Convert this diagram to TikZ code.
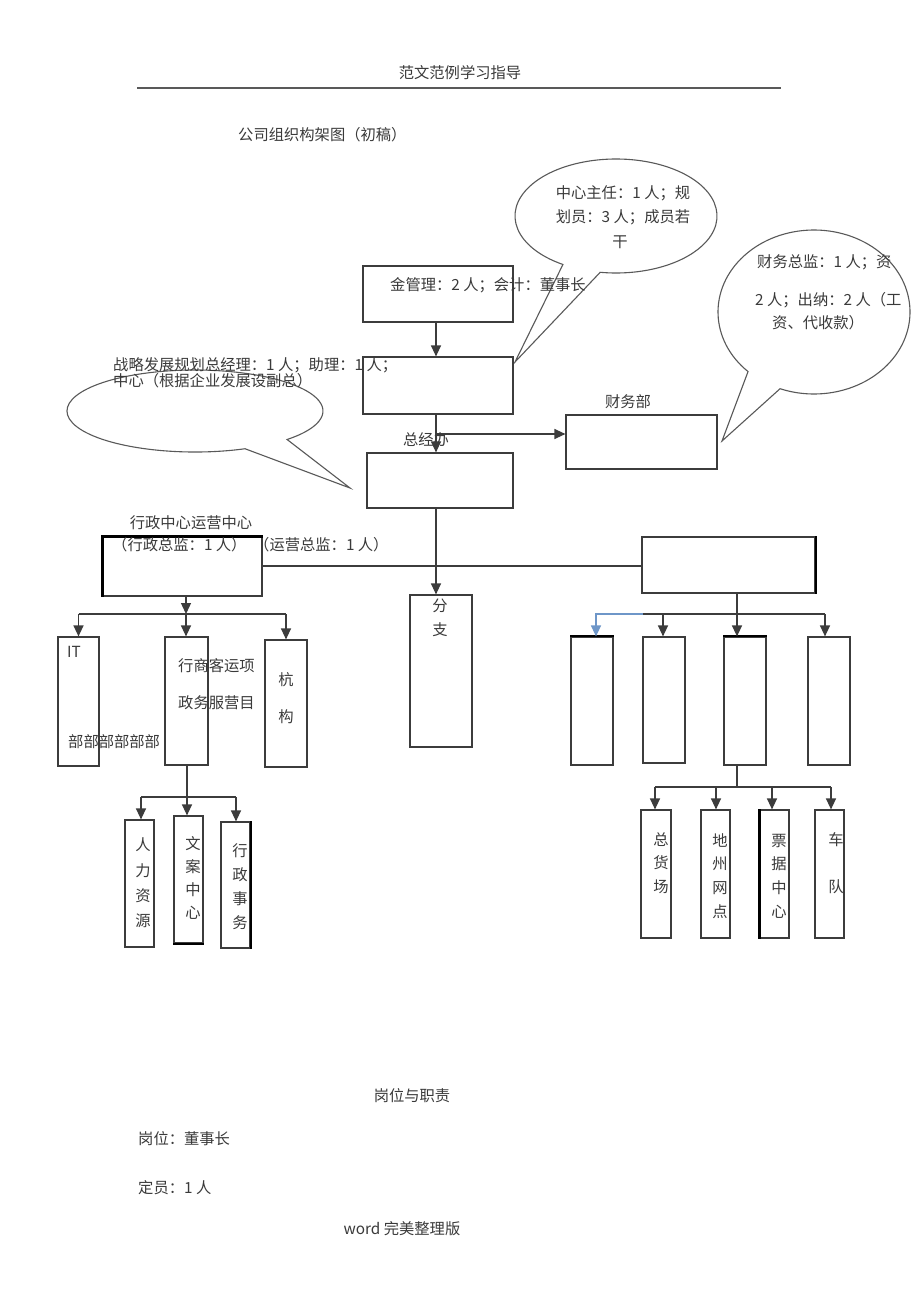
\documentclass[tikz,border=0pt]{standalone}
\usepackage{fontspec}
\setmainfont{Noto Sans CJK SC}
\usetikzlibrary{arrows.meta,calc}
\definecolor{lnc}{HTML}{3C3C3C}
\definecolor{txc}{HTML}{3A3A3A}
\definecolor{blc}{HTML}{6E96C8}
\newcommand\mkbox[5]{\node[box,minimum width=#4pt,minimum height=#5pt] (#1) at (#2,#3) {};}
\begin{document}
\begin{tikzpicture}[x=1pt,y=-1pt,
  box/.style={draw=lnc,line width=1.2pt,inner sep=0pt},
  conn/.style={draw=lnc,line width=1.2pt},
  arr/.style={draw=lnc,line width=1.3pt,-{Triangle[length=11pt,width=10pt]}},
  lbl/.style={inner sep=0pt,text=txc,font=\fontsize{15.3}{17}\selectfont},
  bub/.style={draw=lnc!85,line width=1.1pt},
  vt/.style={lbl,align=center}]
\path[fill=white] (0,0) rectangle (920,1303);

% header
\node[lbl] (hdr) at (460,73) {范文范例学习指导};
\draw[line width=1.4pt,draw=black!65] (137,88) -- (781,88);
\node[lbl,anchor=west] (title) at (238,135) {公司组织构架图（初稿）};

% callouts
\draw[bub] (616,216) ++(121.7:101 and 57) arc[start angle=121.7,end angle=459,x radius=101,y radius=57] -- (515,362) -- cycle;
\draw[bub] (814,312) ++(133.4:96 and 82) arc[start angle=133.4,end angle=470.7,x radius=96,y radius=82] -- (722,441) -- cycle;
\draw[bub] (195,411) ++(67:128 and 41) arc[start angle=67,end angle=404,x radius=128,y radius=41] -- (350,488) -- cycle;

% boxes
\mkbox{b1}{438}{294}{150}{56}
\mkbox{b2}{438}{385.5}{150}{57}
\mkbox{b3}{440}{480.5}{146}{55}
\mkbox{cw}{641.5}{442}{151}{54}
\mkbox{L}{182.5}{566.5}{159}{59}
\mkbox{R}{728.5}{565}{173}{56}
\mkbox{fz}{441}{671}{62}{152}
\mkbox{IT}{78.5}{701.5}{41}{129}
\mkbox{XZ}{186.5}{701}{43}{128}
\mkbox{JG}{286}{703.5}{42}{127}
\mkbox{R1}{592}{701}{42}{128}
\mkbox{R2}{664}{700}{42}{126}
\mkbox{R3}{745}{701}{42}{128}
\mkbox{R4}{829}{701}{42}{128}
\mkbox{HR}{139.5}{883.5}{29}{127}
\mkbox{WA}{188.5}{879.5}{29}{127}
\mkbox{XS}{235.5}{885}{29}{126}
\mkbox{ZH}{656}{874}{30}{128}
\mkbox{DZ}{715.5}{874}{29}{128}
\mkbox{PJ}{774.5}{874}{29}{128}
\mkbox{CD}{829.5}{874}{29}{128}
% heavier edges
\draw[line width=2.6pt,draw=black] (L.south west) -- (L.north west) -- (L.north east);
\draw[line width=2.2pt,draw=black] (R.north east) -- (R.south east);
\draw[line width=2.2pt,draw=black] (XS.north east) -- (XS.south east);
\draw[line width=2.2pt,draw=black] (WA.south west) -- (WA.south east);
\draw[line width=2.2pt,draw=black] (PJ.north west) -- (PJ.south west);
\draw[line width=2pt,draw=black] (R1.north west) -- (R1.north east);
\draw[line width=2pt,draw=black] (R3.north west) -- (R3.north east);

% connectors (top)
\coordinate (sp) at (436,0);
\draw[arr] (b1.south -| sp) -- (b2.north -| sp);
\draw[arr] (b2.south -| sp) -- (b3.north -| sp);
\coordinate (j1) at (436,434);
\draw[arr] (j1) -- (j1 -| cw.west);
\draw[arr] (b3.south -| sp) -- (fz.north -| sp);
\draw[conn] (L.east |- 0,566) -- (R.west |- 0,566);

% left tree
\coordinate (lj) at (186,614);
\draw[arr] (L.south -| lj) -- (lj);
\draw[arr] (lj) -- (XZ.north -| lj);
\draw[conn] (lj -| IT.north) -- (lj -| JG.north);
\draw[arr] (lj -| IT.north) -- (IT.north);
\draw[arr] (lj -| JG.north) -- (JG.north);

\coordinate (lj2) at (187,797);
\draw[conn] (XZ.south -| lj2) -- (lj2);
\draw[arr] (lj2) -- (WA.north -| lj2);
\coordinate (hj) at (141,797);
\coordinate (xj) at (236,797);
\draw[conn] (hj) -- (xj);
\draw[arr] (hj) -- (hj |- HR.north);
\draw[arr] (xj) -- (xj |- XS.north);

% right tree
\coordinate (rj) at (737,614);
\coordinate (rb) at (643,614);
\coordinate (r1j) at (596,614);
\coordinate (r2j) at (663,614);
\coordinate (r4j) at (825,614);
\draw[conn] (R.south -| rj) -- (rj);
\draw[conn] (rb) -- (r4j);
\draw[arr] (rj) -- (rj |- R3.north);
\draw[arr] (r2j) -- (r2j |- R2.north);
\draw[arr] (r4j) -- (r4j |- R4.north);
\draw[arr,draw=blc] (rb) -- (r1j) -- (r1j |- R1.north);

\coordinate (rj2) at (737,787);
\coordinate (q1) at (655,787);
\coordinate (q2) at (716,787);
\coordinate (q3) at (772,787);
\coordinate (q4) at (831,787);
\draw[conn] (R3.south -| rj2) -- (rj2);
\draw[conn] (q1) -- (q4);
\draw[arr] (q1) -- (q1 |- ZH.north);
\draw[arr] (q2) -- (q2 |- DZ.north);
\draw[arr] (q3) -- (q3 |- PJ.north);
\draw[arr] (q4) -- (q4 |- CD.north);

% texts
\node[lbl] (c1a) at (623,193) {中心主任：1 人；规};
\node[lbl] (c1b) at (623,217) {划员：3 人；成员若};
\node[lbl] (c1c) at (620,242) {干};
\node[lbl,anchor=west] (c2a) at (757,262) {财务总监：1 人；资};
\node[lbl,anchor=west] (c2b) at (755,300) {2 人；出纳：2 人（工};
\node[lbl,anchor=west] (c2c) at (772,323) {资、代收款）};
\node[lbl,anchor=west] (t1) at (390,285) {金管理：2 人；会计：董事长};
\node[lbl,anchor=west] (t2) at (113,365) {战略发展规划总经理：1 人；助理：1 人；};
\node[lbl,anchor=west] (t3) at (113,381) {中心（根据企业发展设副总）};
\node[lbl] (t4) at (426,440) {总经办};
\node[lbl] (t5) at (628,402) {财务部};
\node[lbl] (t6) at (191,523) {行政中心运营中心};
\node[lbl,anchor=west] (t7) at (112,545) {（行政总监：1 人）};
\node[lbl,anchor=west] (t8) at (254,545) {（运营总监：1 人）};
\node[lbl,anchor=west] (t9) at (67,652) {IT};
\node[lbl,anchor=west] (t10) at (68,742) {部部部部部部};
\node[lbl,anchor=west] (t11) at (178,666) {行商客运项};
\node[lbl,anchor=west] (t12) at (178,703) {政务服营目};
\node[lbl] (t13) at (286,680) {杭};
\node[lbl] (t14) at (286,717) {构};
\node[lbl] (t15) at (440,606) {分};
\node[lbl] (t16) at (440,630) {支};
\node[vt,font=\fontsize{15.3}{25.3}\selectfont] (v1) at (143,883) {人\\力\\资\\源};
\node[vt,font=\fontsize{15.3}{23.3}\selectfont] (v2) at (193,878) {文\\案\\中\\心};
\node[vt,font=\fontsize{15.3}{24}\selectfont] (v3) at (240,887) {行\\政\\事\\务};
\node[vt,font=\fontsize{15.3}{23.5}\selectfont] (v4) at (661,863) {总\\货\\场};
\node[vt,font=\fontsize{15.3}{23.7}\selectfont] (v5) at (720,876) {地\\州\\网\\点};
\node[vt,font=\fontsize{15.3}{23.7}\selectfont] (v6) at (779,876) {票\\据\\中\\心};
\node[lbl] (v7a) at (836,840) {车};
\node[lbl] (v7b) at (836,887) {队};

% bottom text
\node[lbl] (b_a) at (412,1096) {岗位与职责};
\node[lbl,anchor=west] (b_b) at (138,1139) {岗位：董事长};
\node[lbl,anchor=west] (b_c) at (138,1188) {定员：1 人};
\node[lbl] (b_d) at (402,1229) {word 完美整理版};
\end{tikzpicture}
\end{document}
